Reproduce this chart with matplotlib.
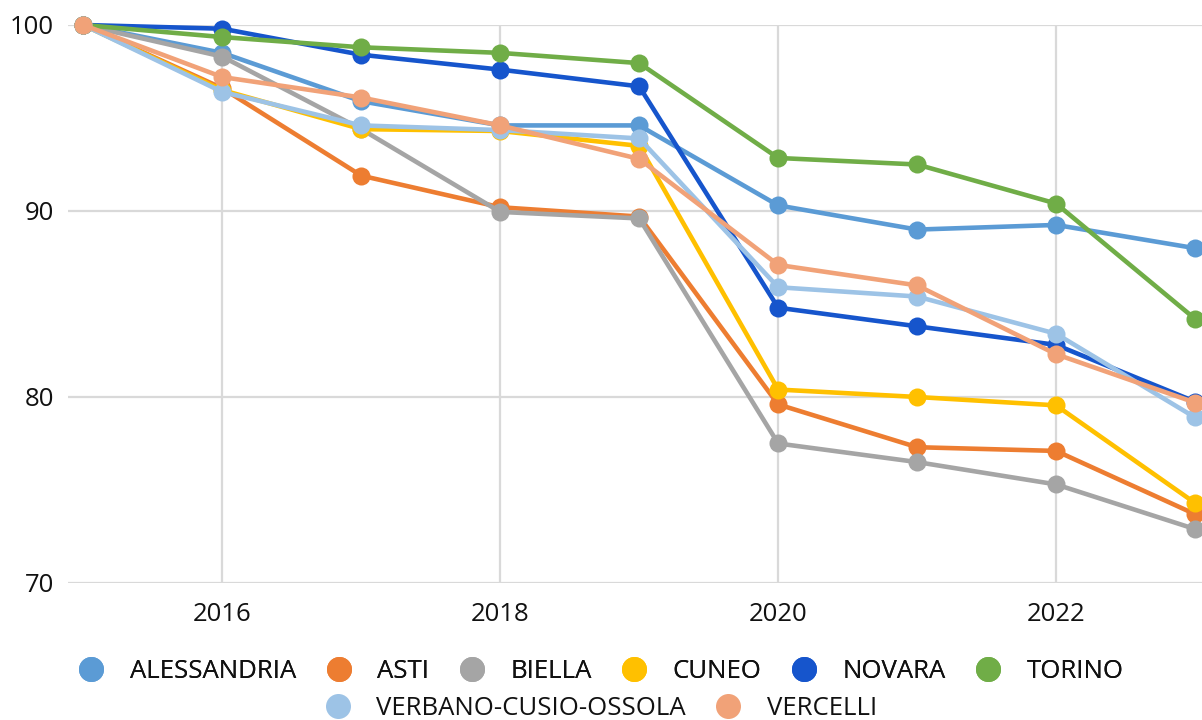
import matplotlib.pyplot as plt
from matplotlib.lines import Line2D

plt.rcParams['font.family'] = ['Open Sans', 'DejaVu Sans']

anni = [2015, 2016, 2017, 2018, 2019, 2020, 2021, 2022, 2023]

alessandria = [100, 98.5, 95.9, 94.6, 94.6, 90.3, 89.0, 89.25, 88.0]
asti = [100, 96.6, 91.9, 90.2, 89.7, 79.6, 77.3, 77.1, 73.7]
biella = [100, 98.3, 94.4, 89.95, 89.6, 77.5, 76.5, 75.3, 72.9]
cuneo = [100, 96.5, 94.4, 94.3, 93.5, 80.4, 80.0, 79.55, 74.3]
novara = [100, 99.8, 98.4, 97.6, 96.7, 84.8, 83.8, 82.8, 79.75]
torino = [100, 99.35, 98.8, 98.5, 97.95, 92.85, 92.5, 90.4, 84.2]
vco = [100, 96.4, 94.6, 94.35, 93.9, 85.9, 85.4, 83.4, 78.9]
vercelli = [100, 97.2, 96.1, 94.6, 92.8, 87.1, 86.0, 82.3, 79.7]

serie = [
    ('ALESSANDRIA', alessandria, '#5B9BD5'),
    ('ASTI', asti, '#ED7D31'),
    ('BIELLA', biella, '#A5A5A5'),
    ('CUNEO', cuneo, '#FFC000'),
    ('NOVARA', novara, '#1655CC'),
    ('TORINO', torino, '#70AD47'),
    ('VERBANO-CUSIO-OSSOLA', vco, '#9DC3E6'),
    ('VERCELLI', vercelli, '#F1A278'),
]

fig = plt.figure(figsize=(12.02, 7.2), dpi=100)
ax = fig.add_axes([0.0566, 0.1903, 0.9434, 0.775])

for nome, valori, colore in serie:
    ax.plot(anni, valori, color=colore, lw=3.3, marker='o', ms=13,
            markeredgewidth=0, label=nome, clip_on=False, zorder=3)

ax.set_xlim(2014.89, 2023.05)
ax.set_ylim(70, 100)
ax.set_xticks([2016, 2018, 2020, 2022])
ax.set_yticks([70, 80, 90, 100])
ax.grid(True, color='#d9d9d9', lw=1.6, zorder=0)
for s in ax.spines.values():
    s.set_visible(False)
ax.tick_params(axis='both', length=0, labelsize=18.5, colors='#111111')
ax.tick_params(axis='y', pad=10)
ax.tick_params(axis='x', pad=14)

handles = [Line2D([], [], ls='none', marker='o', ms=18, markeredgewidth=0, color=c)
           for _, _, c in serie]
nomi = [n for n, _, _ in serie]

leg1 = fig.legend(handles[:6], nomi[:6], loc='center', bbox_to_anchor=(0.5, 0.068),
                  ncol=6, frameon=False, fontsize=18.5, handlelength=1.0,
                  handletextpad=1.0, columnspacing=1.15)
for t in leg1.get_texts():
    t.set_color('#111111')
leg2 = fig.legend(handles[6:], nomi[6:], loc='center', bbox_to_anchor=(0.5, 0.016),
                  ncol=2, frameon=False, fontsize=18.5, handlelength=1.0,
                  handletextpad=1.0, columnspacing=1.15)
for t in leg2.get_texts():
    t.set_color('#111111')
fig.add_artist(leg1)

fig.savefig('out.png', dpi=100)
